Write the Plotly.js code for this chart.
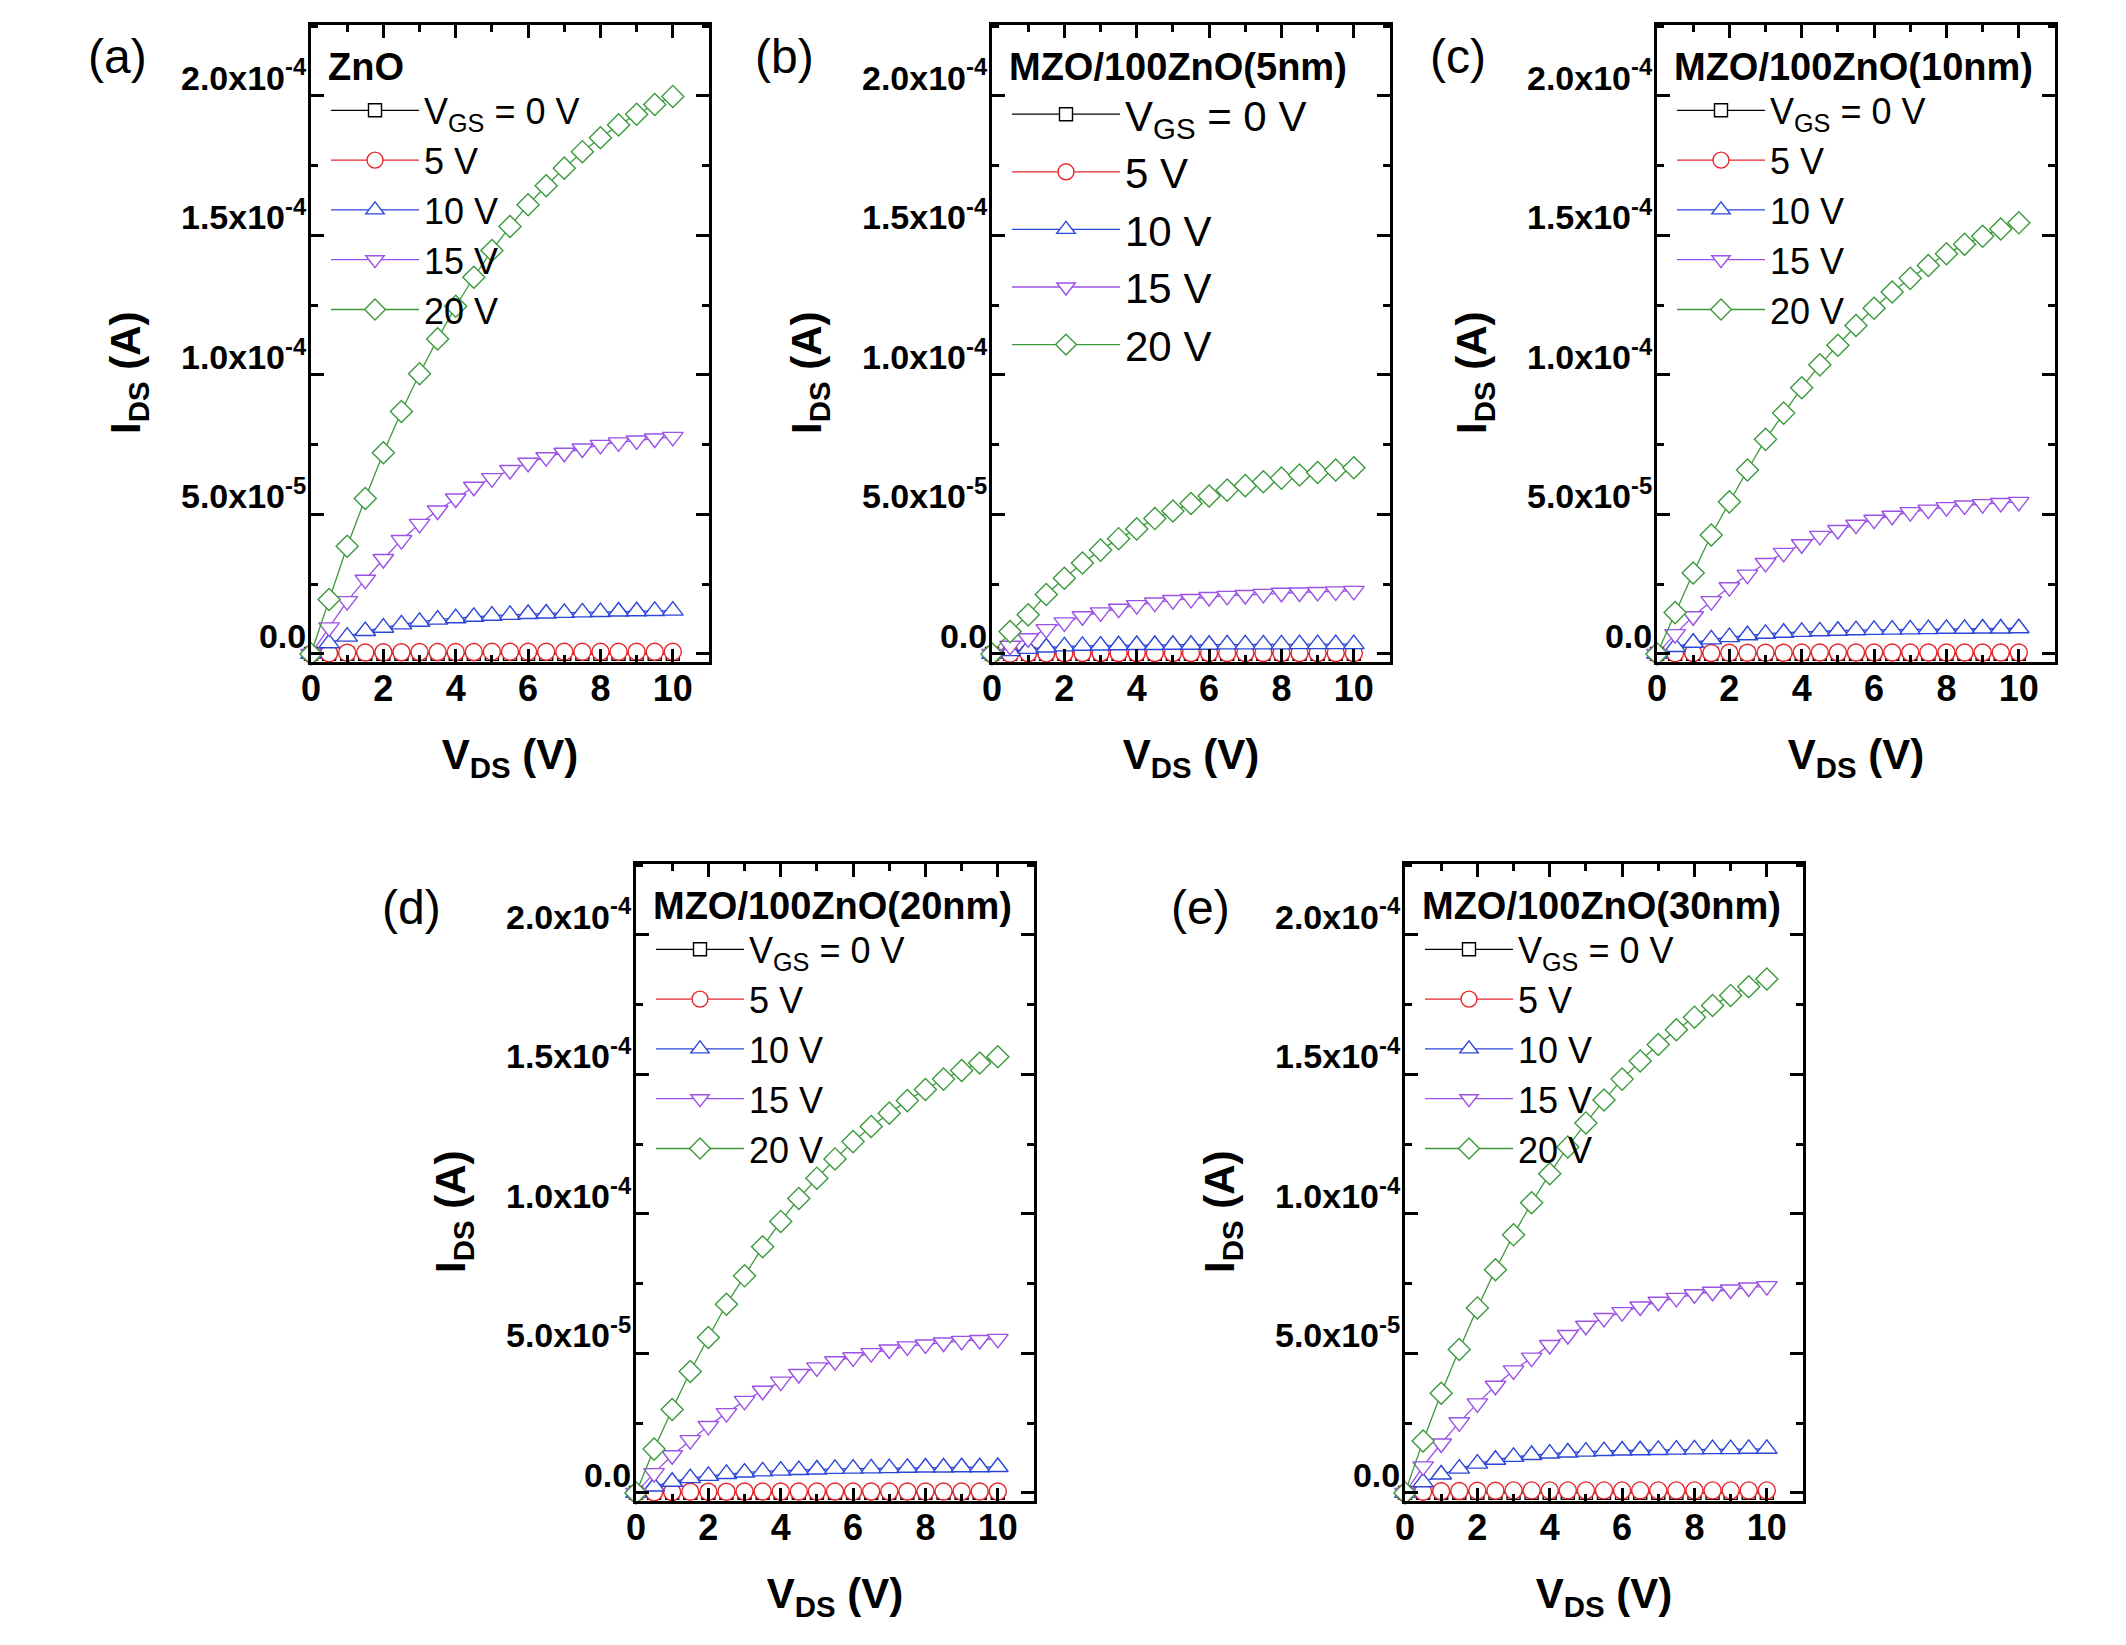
<!DOCTYPE html>
<html>
<head>
<meta charset="utf-8">
<script src="https://cdn.plot.ly/plotly-3.0.1.min.js"></script>
<style>
html,body{margin:0;padding:0;background:#fff;}
#chart{width:2126px;height:1645px;}
</style>
</head>
<body>
<div id="chart"></div>
<script>
// ---------------- DATA (I_DS in microamperes, V_DS in volts) ----------------
const vds = [0, 0.5, 1, 1.5, 2, 2.5, 3, 3.5, 4, 4.5, 5, 5.5, 6, 6.5, 7, 7.5, 8, 8.5, 9, 9.5, 10];
const seriesNames = ['V<sub>GS</sub> = 0 V', '5 V', '10 V', '15 V', '20 V'];

// (a) ZnO
const a_0V  = [0, 0, 0, 0, 0, 0, 0, 0, 0, 0, 0, 0, 0, 0, 0, 0, 0, 0, 0, 0, 0];
const a_5V  = [0, 0.2, 0.4, 0.5, 0.6, 0.6, 0.7, 0.7, 0.7, 0.7, 0.8, 0.8, 0.8, 0.8, 0.8, 0.8, 0.8, 0.8, 0.8, 0.8, 0.8];
const a_10V = [0, 3.8, 6.2, 8.2, 9.4, 10.6, 11.5, 12.3, 12.8, 13.3, 13.7, 14.0, 14.3, 14.5, 14.7, 14.9, 15.0, 15.2, 15.3, 15.4, 15.5];
const a_15V = [0, 9.5, 18.9, 26.6, 34.0, 40.8, 46.6, 51.4, 55.7, 59.9, 63.0, 65.9, 68.5, 70.5, 72.1, 73.6, 74.9, 75.8, 76.5, 77.2, 77.8];
const a_20V = [0, 19.5, 38.6, 55.7, 72.1, 86.9, 100.4, 112.9, 124.6, 135.0, 144.6, 153.2, 161.0, 167.8, 174.1, 180.0, 185.0, 189.6, 193.4, 196.9, 199.8];

// (b) MZO/100ZnO(5nm)
const b_0V  = [0, 0, 0, 0, 0, 0, 0, 0, 0, 0, 0, 0, 0, 0, 0, 0, 0, 0, 0, 0, 0];
const b_5V  = [0, 0.1, 0.2, 0.2, 0.2, 0.3, 0.3, 0.3, 0.3, 0.3, 0.3, 0.3, 0.3, 0.3, 0.3, 0.3, 0.3, 0.3, 0.3, 0.3, 0.3];
const b_10V = [0, 1.0, 1.8, 2.3, 2.7, 2.9, 3.0, 3.1, 3.2, 3.2, 3.3, 3.3, 3.3, 3.4, 3.4, 3.4, 3.4, 3.5, 3.5, 3.5, 3.5];
const b_15V = [0, 2.9, 5.6, 8.9, 11.3, 13.5, 14.9, 16.2, 17.5, 18.4, 19.3, 19.7, 20.4, 20.8, 21.1, 21.5, 21.9, 22.0, 22.2, 22.4, 22.6];
const b_20V = [0, 8.0, 14.0, 21.3, 27.1, 32.6, 37.2, 41.3, 44.8, 48.5, 51.2, 53.9, 56.6, 58.7, 60.3, 61.7, 63.0, 64.1, 65.0, 65.9, 66.7];

// (c) MZO/100ZnO(10nm)
const c_0V  = [0, 0, 0, 0, 0, 0, 0, 0, 0, 0, 0, 0, 0, 0, 0, 0, 0, 0, 0, 0, 0];
const c_5V  = [0, 0.2, 0.3, 0.3, 0.4, 0.4, 0.4, 0.4, 0.5, 0.5, 0.5, 0.5, 0.5, 0.5, 0.5, 0.5, 0.5, 0.5, 0.5, 0.5, 0.5];
const c_10V = [0, 2.5, 4.0, 5.2, 6.0, 6.7, 7.2, 7.6, 7.9, 8.1, 8.3, 8.5, 8.6, 8.7, 8.8, 8.9, 9.0, 9.0, 9.1, 9.1, 9.2];
const c_15V = [0, 7.1, 13.5, 18.9, 23.9, 28.4, 32.6, 36.2, 39.3, 42.3, 44.4, 46.3, 48.1, 49.5, 50.8, 51.7, 52.6, 53.2, 53.7, 54.1, 54.5];
const c_20V = [0, 14.8, 29.0, 42.6, 54.5, 65.9, 76.9, 86.3, 95.4, 103.6, 110.6, 117.7, 123.9, 129.7, 134.6, 139.2, 143.4, 146.8, 149.7, 152.3, 154.5];

// (d) MZO/100ZnO(20nm)
const d_0V  = [0, 0, 0, 0, 0, 0, 0, 0, 0, 0, 0, 0, 0, 0, 0, 0, 0, 0, 0, 0, 0];
const d_5V  = [0, 0.2, 0.3, 0.4, 0.4, 0.4, 0.5, 0.5, 0.5, 0.5, 0.5, 0.5, 0.5, 0.5, 0.5, 0.5, 0.5, 0.5, 0.5, 0.5, 0.5];
const d_10V = [0, 2.3, 4.0, 5.3, 6.1, 6.8, 7.3, 7.7, 8.0, 8.2, 8.4, 8.6, 8.7, 8.8, 8.9, 9.0, 9.1, 9.1, 9.2, 9.2, 9.3];
const d_15V = [0, 7.1, 13.5, 18.9, 24.0, 28.6, 33.0, 36.6, 39.9, 42.6, 45.0, 47.2, 48.6, 50.1, 51.4, 52.5, 53.2, 53.9, 54.5, 54.8, 55.2];
const d_20V = [0, 15.7, 29.9, 43.5, 55.7, 67.6, 77.8, 88.2, 97.3, 105.5, 112.8, 119.7, 125.9, 131.3, 136.1, 140.6, 144.6, 148.3, 151.4, 154.1, 156.3];

// (e) MZO/100ZnO(30nm)
const e_0V  = [0, 0, 0, 0, 0, 0, 0, 0, 0, 0, 0, 0, 0, 0, 0, 0, 0, 0, 0, 0, 0];
const e_5V  = [0, 0.4, 0.6, 0.7, 0.8, 0.8, 0.9, 0.9, 0.9, 0.9, 0.9, 0.9, 0.9, 0.9, 0.9, 0.9, 0.9, 0.9, 0.9, 0.9, 0.9];
const e_10V = [0, 3.8, 6.6, 8.7, 10.5, 11.9, 12.9, 13.6, 14.1, 14.5, 14.8, 15.0, 15.2, 15.3, 15.4, 15.5, 15.6, 15.7, 15.7, 15.8, 15.8];
const e_15V = [0, 9.5, 17.7, 25.3, 32.1, 38.4, 43.9, 48.5, 53.0, 56.6, 59.9, 62.7, 64.8, 66.8, 68.5, 69.9, 71.2, 72.1, 72.9, 73.6, 74.1];
const e_20V = [0, 18.6, 35.7, 51.4, 66.3, 80.0, 92.5, 104.0, 114.4, 124.0, 132.6, 140.8, 148.3, 154.8, 160.7, 166.0, 170.5, 174.7, 178.3, 181.4, 184.2];

// tick labels
const yTickVals = [0, 50, 100, 150, 200];
const yTickText = ['0.0', '5.0x10<sup>-5</sup>', '1.0x10<sup>-4</sup>', '1.5x10<sup>-4</sup>', '2.0x10<sup>-4</sup>'];
const xTickVals = [0, 2, 4, 6, 8, 10];
const xTickText = ['0', '2', '4', '6', '8', '10'];

const panelLabels = ['(a)', '(b)', '(c)', '(d)', '(e)'];
const sampleNames = ['ZnO', 'MZO/100ZnO(5nm)', 'MZO/100ZnO(10nm)', 'MZO/100ZnO(20nm)', 'MZO/100ZnO(30nm)'];
const panelData = [
  [a_0V, a_5V, a_10V, a_15V, a_20V],
  [b_0V, b_5V, b_10V, b_15V, b_20V],
  [c_0V, c_5V, c_10V, c_15V, c_20V],
  [d_0V, d_5V, d_10V, d_15V, d_20V],
  [e_0V, e_5V, e_10V, e_15V, e_20V]
];

// ---------------- STYLE / LAYOUT ----------------
const W = 2126, H = 1645;
const FONT = 'Liberation Sans, Arial, Helvetica, sans-serif';
const colors  = ['#000000', '#E8262A', '#2B45D8', '#9B50E6', '#3C9A3C'];
const symbols = ['square', 'circle', 'triangle-up', 'triangle-down', 'diamond'];
const msizes  = [13, 17, 18, 18, 17];

// plot boxes in pixels: [left, right, top, bottom]
const boxes = [
  [311, 709, 25, 662],
  [992, 1390, 25, 662],
  [1657, 2055, 25, 662],
  [636, 1034, 864, 1501],
  [1405, 1803, 864, 1501]
];
const labelPos = [[117, 57], [784, 57], [1458, 57], [411, 907], [1200, 907]];
const legendFont = [36, 42, 36, 36, 36];
const legendItemW = [88, 108, 88, 88, 88];
const NB = '&nbsp;&nbsp;&nbsp;&nbsp;&nbsp;';

const traces = [];
const layout = {
  width: W, height: H,
  margin: {l: 0, r: 0, t: 0, b: 0},
  paper_bgcolor: '#ffffff',
  plot_bgcolor: 'rgba(0,0,0,0)',
  showlegend: true,
  font: {family: FONT, color: '#000000'},
  annotations: []
};

panelData.forEach((series, p) => {
  const sfx = p === 0 ? '' : String(p + 1);
  const [l, r, t, b] = boxes[p];
  const legName = 'legend' + sfx;
  series.forEach((ys, k) => {
    traces.push({
      type: 'scatter', mode: 'lines+markers',
      x: vds, y: ys,
      xaxis: 'x' + sfx, yaxis: 'y' + sfx,
      name: seriesNames[k],
      legend: legName,
      line: {color: colors[k], width: 1.3},
      marker: {symbol: symbols[k], size: msizes[k], color: '#ffffff',
               line: {color: colors[k], width: 1.4}},
      cliponaxis: false
    });
  });
  const axCommon = {
    showline: true, linecolor: '#000', linewidth: 3, mirror: 'ticks',
    ticks: 'inside', ticklen: 13, tickwidth: 3, tickcolor: '#000',
    showgrid: false, zeroline: false, fixedrange: true
  };
  layout['xaxis' + sfx] = Object.assign({}, axCommon, {
    domain: [l / W, r / W], anchor: 'y' + sfx,
    range: [0, 11],
    tickmode: 'array', tickvals: xTickVals, ticktext: xTickText,
    tickfont: {family: FONT, size: 36, weight: 'bold', color: '#000'},
    ticklabelstandoff: -7,
    minor: {ticks: 'inside', ticklen: 7, tickwidth: 3, tickcolor: '#000', dtick: 1, tick0: 0},
    title: {text: 'V<sub>DS</sub> (V)', font: {family: FONT, size: 42, weight: 'bold', color: '#000'}, standoff: 32}
  });
  layout['yaxis' + sfx] = Object.assign({}, axCommon, {
    domain: [1 - b / H, 1 - t / H], anchor: 'x' + sfx,
    range: [-2.9, 225.4],
    tickmode: 'array', tickvals: yTickVals, ticktext: yTickText,
    tickfont: {family: FONT, size: 34, weight: 'bold', color: '#000'},
    ticklabelshift: -18, ticklabelstandoff: -5,
    minor: {ticks: 'inside', ticklen: 7, tickwidth: 3, tickcolor: '#000', dtick: 25, tick0: 0},
    title: {text: 'I<sub>DS</sub> (A)' + NB, font: {family: FONT, size: 42, weight: 'bold', color: '#000'}, standoff: 28}
  });
  layout[legName] = {
    x: (l + 15) / W, y: 1 - (t + 6) / H,
    xanchor: 'left', yanchor: 'top',
    bgcolor: 'rgba(0,0,0,0)', borderwidth: 0,
    font: {family: FONT, size: legendFont[p], color: '#000'},
    title: {text: sampleNames[p], side: 'top', font: {family: FONT, size: 38, weight: 'bold', color: '#000'}},
    itemwidth: legendItemW[p], tracegroupgap: 0, traceorder: 'normal',
    itemclick: false, itemdoubleclick: false
  };
  layout.annotations.push({
    xref: 'paper', yref: 'paper',
    x: labelPos[p][0] / W, y: 1 - labelPos[p][1] / H,
    xanchor: 'center', yanchor: 'middle',
    text: panelLabels[p], showarrow: false,
    font: {family: FONT, size: 48, color: '#000'}
  });
});

Plotly.newPlot('chart', traces, layout, {displayModeBar: false, staticPlot: true});
</script>
</body>
</html>
